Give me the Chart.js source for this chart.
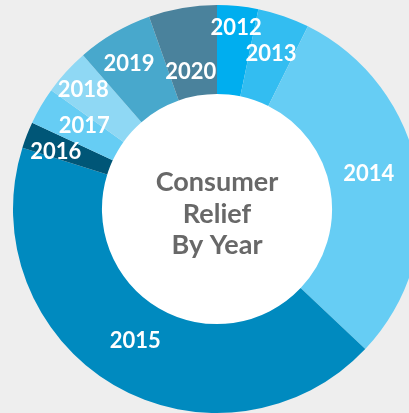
<!DOCTYPE html>
<html>
<head>
<meta charset="utf-8">
<script src="https://cdn.jsdelivr.net/npm/chart.js@4/dist/chart.umd.min.js"></script>
<style>
  html, body { margin: 0; padding: 0; background: #eeeeee; overflow: hidden; }
  #reliefChart { display: block; }
</style>
</head>
<body>
<canvas id="reliefChart" width="434" height="418"></canvas>
<script>
// Share of consumer relief by year (percent of total)
const years = ["2012", "2013", "2014", "2015", "2016", "2017", "2018", "2019", "2020"];
const reliefShare = [3.25, 4.1, 29.7, 42.8, 2.1, 2.95, 3.7, 6.0, 5.4];
const centerLines = ["Consumer", "Relief", "By Year"];

const sliceColors = [
  "#00aeef", "#33bdf1", "#66cdf4", "#008abf", "#005677",
  "#66cdf4", "#8fd8f4", "#48a8cc", "#4a829c",
];

// where each year label sits: [radius as fraction of outer radius, angle nudge in degrees]
const labelPlace = [
  [0.897, 0.15], [0.81, 0], [0.765, -3.3], [0.757, 1.5], [0.84, -1.4],
  [0.77, 2], [0.88, -0.5], [0.835, -0.9], [0.69, -1.0],
];

const ringExtras = {
  id: "ringExtras",
  beforeDatasetsDraw(chart) {
    const arc = chart.getDatasetMeta(0).data[0];
    const ctx = chart.ctx;
    ctx.save();
    ctx.fillStyle = "#ffffff";
    ctx.beginPath();
    ctx.arc(arc.x, arc.y, arc.innerRadius + 1, 0, Math.PI * 2);
    ctx.fill();
    ctx.restore();
  },
  afterDatasetsDraw(chart) {
    const meta = chart.getDatasetMeta(0);
    const ctx = chart.ctx;
    ctx.save();
    ctx.textAlign = "center";
    ctx.textBaseline = "middle";
    ctx.fillStyle = "#ffffff";
    ctx.font = "bold 22px Lato";
    meta.data.forEach((arc, i) => {
      const mid = (arc.startAngle + arc.endAngle) / 2 + labelPlace[i][1] * Math.PI / 180;
      const r = arc.outerRadius * labelPlace[i][0];
      ctx.fillText(years[i], arc.x + Math.cos(mid) * r, arc.y + Math.sin(mid) * r + 1);
    });

    // centre title
    const cx = meta.data[0].x;
    const cy = meta.data[0].y;
    ctx.fillStyle = "#686868";
    ctx.font = "bold 27px Lato";
    ctx.textBaseline = "alphabetic";
    const offsets = [-18, 14, 45];
    centerLines.forEach((line, i) => {
      ctx.fillText(line, cx, cy + offsets[i]);
    });
    ctx.restore();
  },
};

const ctx = document.getElementById("reliefChart").getContext("2d");
const chart = new Chart(ctx, {
  type: "doughnut",
  data: {
    labels: years,
    datasets: [
      {
        data: reliefShare,
        backgroundColor: sliceColors,
        borderWidth: 0,
      },
    ],
  },
  options: {
    responsive: false,
    animation: false,
    cutout: "56.4%",
    layout: { padding: { top: 5, bottom: 5 } },
    plugins: {
      legend: { display: false },
      tooltip: { enabled: false },
    },
  },
  plugins: [ringExtras],
});
</script>
</body>
</html>
